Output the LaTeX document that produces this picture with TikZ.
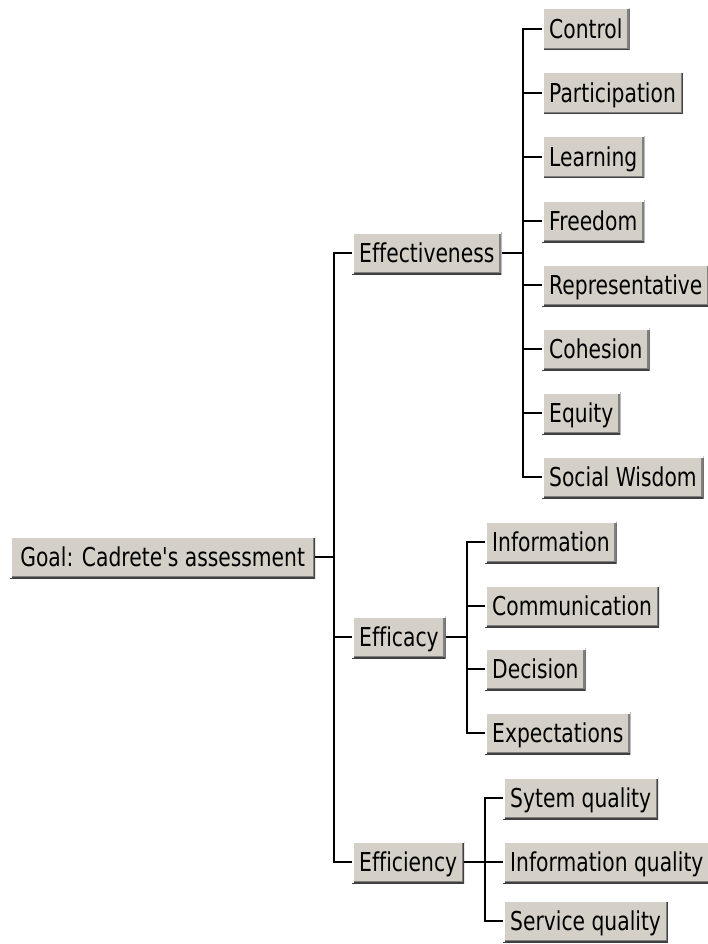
\documentclass[tikz,border=0pt]{standalone}
\usepackage{fontspec}
% plain family: no TeX quote mapping, no ff/fi ligatures
\newfontfamily\btnfont[FakeStretch=0.78, Ligatures=NoCommon]{DejaVu Sans}
\definecolor{btnface}{HTML}{D4D0C8}
\definecolor{btnshade}{HTML}{808080}
\definecolor{btndark}{HTML}{404040}
\begin{document}
\begin{tikzpicture}[x=1pt,y=-1pt,
  btn/.style={anchor=west, fill=btnface, draw=none,
    minimum height=42pt, inner xsep=7pt, inner ysep=0pt,
    text height=24pt, text depth=5pt, text=black,
    font=\btnfont\fontsize{26}{30}\selectfont,
    path picture={
      \draw[btndark, line width=3pt]
        (path picture bounding box.north east) -- (path picture bounding box.south east)
        -- (path picture bounding box.south west);
      \draw[btnshade, line width=1.5pt]
        ([xshift=-1.5pt]path picture bounding box.north east) -- ([shift={(-1.5pt,1.5pt)}]path picture bounding box.south east)
        -- ([yshift=1.5pt]path picture bounding box.south west);
      \draw[white, line width=3pt]
        (path picture bounding box.south west) -- (path picture bounding box.north west)
        -- (path picture bounding box.north east);
    }},
  link/.style={draw=black, line width=1.6pt}]
\useasboundingbox (0,0) rectangle (707,944);
\fill[white] (0,0) rectangle (707,944);

% root and first level
\node[btn, minimum width=305pt] (goal) at (10,557) {Goal: Cadrete's assessment};
\node[btn] (effness) at (352,253) {Effectiveness};
\node[btn] (efficacy) at (352,637) {Efficacy};
\node[btn] (efficiency) at (352,862) {Efficiency};

% effectiveness criteria
\node[btn] (control) at (542,29) {Control};
\node[btn] (particip) at (542,93) {Participation};
\node[btn] (learning) at (542,157) {Learning};
\node[btn] (freedom) at (542,221) {Freedom};
\node[btn] (represent) at (542,285) {Representative};
\node[btn] (cohesion) at (542,349) {Cohesion};
\node[btn] (equity) at (542,413) {Equity};
\node[btn] (wisdom) at (542,477) {Social Wisdom};

% efficacy criteria
\node[btn] (information) at (485,542) {Information};
\node[btn] (communication) at (485,606) {Communication};
\node[btn] (decision) at (485,669) {Decision};
\node[btn] (expectations) at (485,733) {Expectations};

% efficiency criteria
\node[btn] (sysq) at (503,798) {Sytem quality};
\node[btn] (infoq) at (503,862) {Information quality};
\node[btn] (servq) at (503,921) {Service quality};

% branch points
\coordinate (j1) at (334,557);
\coordinate (j2) at (523,253);
\coordinate (j3) at (467,637);
\coordinate (j4) at (485,862);

% connectors
\draw[link] (goal.east) -- (j1);
\foreach \n in {effness,efficacy,efficiency}
  \draw[link] (\n.west) -| (j1);

\draw[link] (effness.east) -- (j2);
\foreach \n in {control,particip,learning,freedom,represent,cohesion,equity,wisdom}
  \draw[link] (\n.west) -| (j2);

\draw[link] (efficacy.east) -- (j3);
\foreach \n in {information,communication,decision,expectations}
  \draw[link] (\n.west) -| (j3);

\draw[link] (efficiency.east) -- (j4);
\foreach \n in {sysq,infoq,servq}
  \draw[link] (\n.west) -| (j4);
\end{tikzpicture}
\end{document}
